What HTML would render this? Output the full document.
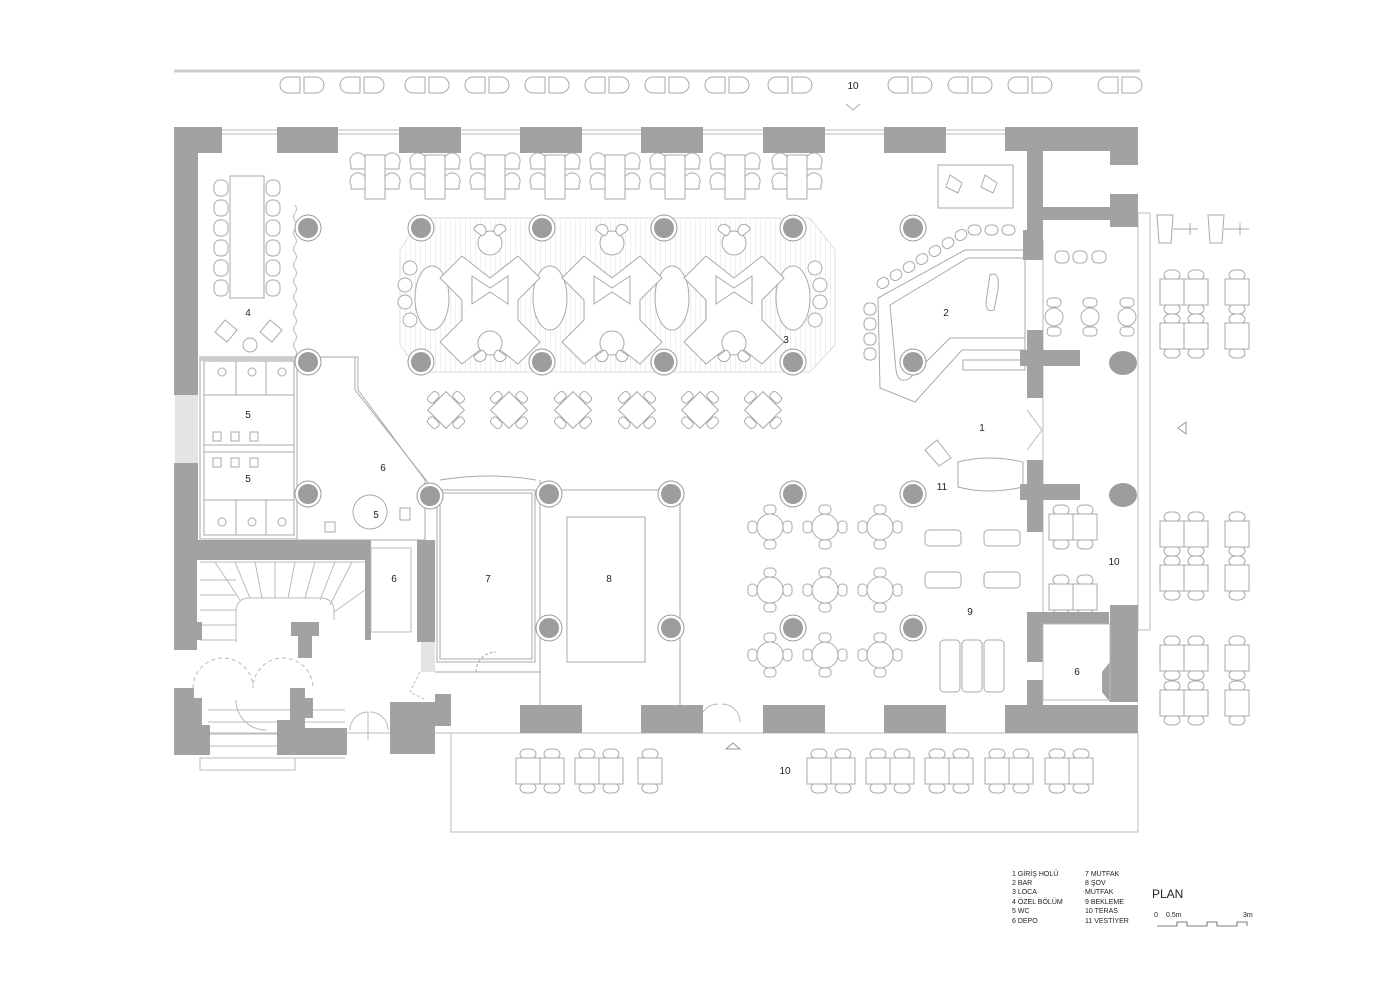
<!DOCTYPE html>
<html><head><meta charset="utf-8"><style>
html,body{margin:0;padding:0;background:#fff}
svg{display:block}
text{font-family:"Liberation Sans",sans-serif;fill:#222}
</style></head><body>
<svg width="1400" height="989" viewBox="0 0 1400 989" xmlns="http://www.w3.org/2000/svg">
<defs>
<g id="col"><circle r="13" fill="#fff" stroke="#999" stroke-width="1"/><circle r="10" fill="#9d9d9d"/></g>
<g id="t4" fill="#fff" stroke="#aaa" stroke-width="1">
 <path d="M-10,-20 a8,8 0 0 0 -14,8 v4 h14z M-10,0 a8,8 0 0 0 -14,8 v4 h14z"/>
 <path d="M10,-20 a8,8 0 0 1 14,8 v4 h-14z M10,0 a8,8 0 0 1 14,8 v4 h-14z"/>
 <rect x="-10" y="-22" width="20" height="44"/>
</g>
<g id="dt" fill="#fff" stroke="#aaa" stroke-width="1">
 <g transform="rotate(45)">
 <rect x="-6" y="-22" width="12" height="8" rx="3"/><rect x="-6" y="14" width="12" height="8" rx="3"/>
 <rect x="-22" y="-6" width="8" height="12" rx="3"/><rect x="14" y="-6" width="8" height="12" rx="3"/>
 <rect x="-13" y="-13" width="26" height="26"/></g>
</g>
<g id="rt" fill="#fff" stroke="#aaa" stroke-width="1">
 <rect x="-6" y="-22" width="12" height="9" rx="4"/><rect x="-6" y="13" width="12" height="9" rx="4"/>
 <rect x="-22" y="-6" width="9" height="12" rx="4"/><rect x="13" y="-6" width="9" height="12" rx="4"/>
 <circle r="13"/>
</g>
<g id="tt" fill="#fff" stroke="#aaa" stroke-width="1">
 <rect x="-8" y="-22" width="16" height="10" rx="6"/><rect x="-8" y="12" width="16" height="10" rx="6"/>
 <rect x="-12" y="-13" width="24" height="26"/>
</g>
<g id="tt2"><use href="#tt"/><use href="#tt" x="24"/></g>
<g id="chp" fill="#fff" stroke="#aaa" stroke-width="1">
 <path d="M-14,-8 h12 v16 h-12 a8,8 0 0 1 0,-16z"/><path d="M2,-8 h12 a8,8 0 0 1 0,16 h-12z"/>
</g>
<g id="loca" fill="#fff" stroke="#aaa" stroke-width="1">
 <path d="M-28,-32 l28,22 l28,-22 l22,22 l-22,22 v20 l22,22 l-22,22 l-28,-22 l-28,22 l-22,-22 l22,-22 v-20 l-22,-22z"/>
 <path d="M-18,-12 l18,12 l18,-12 v28 l-18,-12 l-18,12z"/>
 <circle cx="0" cy="-45" r="12"/><circle cx="0" cy="55" r="12"/>
 <path d="M-16,-58 a6,6 0 1 1 8,6z M16,-58 a6,6 0 1 0 -8,6z M-16,68 a6,6 0 1 0 8,-6z M16,68 a6,6 0 1 1 -8,-6z"/>
</g>
<pattern id="hatch" width="5" height="10" patternUnits="userSpaceOnUse"><line x1="0" y1="0" x2="0" y2="10" stroke="#e2e2e2" stroke-width="1"/></pattern>
</defs>

<!-- top terrace -->
<line x1="174" y1="71" x2="1140" y2="71" stroke="#ccc" stroke-width="3"/>
<g>
<use href="#chp" x="302" y="85"/><use href="#chp" x="362" y="85"/><use href="#chp" x="427" y="85"/><use href="#chp" x="487" y="85"/><use href="#chp" x="547" y="85"/><use href="#chp" x="607" y="85"/><use href="#chp" x="667" y="85"/><use href="#chp" x="727" y="85"/><use href="#chp" x="790" y="85"/><use href="#chp" x="910" y="85"/><use href="#chp" x="970" y="85"/><use href="#chp" x="1030" y="85"/><use href="#chp" x="1120" y="85"/>
</g>
<text x="853" y="89" font-size="10" text-anchor="middle">10</text>
<path d="M846,104 l7,6 l7,-6" fill="none" stroke="#aaa"/>

<!-- windows top -->
<g stroke="#bbb" stroke-width="1">
<line x1="222" y1="130" x2="1005" y2="130"/><line x1="222" y1="134" x2="1005" y2="134"/>
<line x1="180" y1="733" x2="1005" y2="733"/>
</g>

<!-- loca hatch band -->
<path d="M420,218 H810 L835,250 V345 L810,372 H420 L400,345 V250Z" fill="url(#hatch)" stroke="#ddd"/>
<g fill="#fff" stroke="#aaa">
<ellipse cx="432" cy="298" rx="17" ry="32"/><ellipse cx="550" cy="298" rx="17" ry="32"/><ellipse cx="672" cy="298" rx="17" ry="32"/><ellipse cx="793" cy="298" rx="17" ry="32"/>
</g>
<use href="#loca" x="490" y="288"/><use href="#loca" x="612" y="288"/><use href="#loca" x="734" y="288"/>
<g fill="#fff" stroke="#aaa"><circle cx="410" cy="268" r="7"/><circle cx="405" cy="285" r="7"/><circle cx="405" cy="302" r="7"/><circle cx="410" cy="320" r="7"/><circle cx="815" cy="268" r="7"/><circle cx="820" cy="285" r="7"/><circle cx="820" cy="302" r="7"/><circle cx="815" cy="320" r="7"/></g>

<!-- top row tables -->
<use href="#t4" x="375" y="177"/><use href="#t4" x="435" y="177"/><use href="#t4" x="495" y="177"/><use href="#t4" x="555" y="177"/><use href="#t4" x="615" y="177"/><use href="#t4" x="675" y="177"/><use href="#t4" x="735" y="177"/><use href="#t4" x="797" y="177"/>

<!-- ozel bolum long table -->
<g fill="#fff" stroke="#aaa">
<g id="lc"><rect x="214" y="180" width="14" height="16" rx="6"/><rect x="214" y="200" width="14" height="16" rx="6"/><rect x="214" y="220" width="14" height="16" rx="6"/><rect x="214" y="240" width="14" height="16" rx="6"/><rect x="214" y="260" width="14" height="16" rx="6"/><rect x="214" y="280" width="14" height="16" rx="6"/></g>
<use href="#lc" x="52"/>
<rect x="230" y="176" width="34" height="122"/>
<path d="M225,320 l12,10 l-10,12 l-12,-10z M270,320 l12,10 l-10,12 l-12,-10z"/><circle cx="250" cy="345" r="7"/>
</g>
<path d="M295,205 q3,4 0,8 q-3,4 0,8 q3,4 0,8 q-3,4 0,8 q3,4 0,8 q-3,4 0,8 q3,4 0,8 q-3,4 0,8 q3,4 0,8 q-3,4 0,8 q3,4 0,8 q-3,4 0,8 q3,4 0,8 q-3,4 0,8 q3,4 0,8 q-3,4 0,8 q3,4 0,8 q-3,4 0,8 q3,4 0,8" fill="none" stroke="#bbb"/>

<!-- diamond tables -->
<use href="#dt" x="446" y="410"/><use href="#dt" x="509" y="410"/><use href="#dt" x="573" y="410"/><use href="#dt" x="637" y="410"/><use href="#dt" x="700" y="410"/><use href="#dt" x="763" y="410"/>

<!-- round tables -->
<use href="#rt" x="770" y="527"/><use href="#rt" x="825" y="527"/><use href="#rt" x="880" y="527"/>
<use href="#rt" x="770" y="590"/><use href="#rt" x="825" y="590"/><use href="#rt" x="880" y="590"/>
<use href="#rt" x="770" y="655"/><use href="#rt" x="825" y="655"/><use href="#rt" x="880" y="655"/>

<!-- bar -->
<g fill="#fff" stroke="#aaa">
<path d="M878,298 L965,250 H1025 V350 H962 L915,402 L880,388 Z"/>
<path d="M890,305 L968,258 H1025 V338 H950 L910,378 Q898,385 896,370Z"/>
<path d="M990,275 q10,-5 8,15 l-4,20 q-8,3 -8,-8z"/>
<rect x="938" y="165" width="75" height="43"/>
<path d="M950,175 l12,8 l-4,10 l-12,-6z M985,175 l12,8 l-4,10 l-12,-6z"/>
<rect x="963" y="360" width="62" height="10"/>
</g>
<g fill="#fff" stroke="#aaa">
<rect x="877" y="278" width="12" height="10" rx="5" transform="rotate(-30 883 283)"/><rect x="890" y="270" width="12" height="10" rx="5" transform="rotate(-30 896 275)"/><rect x="903" y="262" width="12" height="10" rx="5" transform="rotate(-30 909 267)"/><rect x="916" y="254" width="12" height="10" rx="5" transform="rotate(-30 922 259)"/><rect x="929" y="246" width="12" height="10" rx="5" transform="rotate(-30 935 251)"/><rect x="942" y="238" width="12" height="10" rx="5" transform="rotate(-30 948 243)"/><rect x="955" y="230" width="12" height="10" rx="5" transform="rotate(-30 961 235)"/>
<rect x="968" y="225" width="13" height="10" rx="5"/><rect x="985" y="225" width="13" height="10" rx="5"/><rect x="1002" y="225" width="13" height="10" rx="5"/>
<rect x="864" y="303" width="12" height="12" rx="5"/><rect x="864" y="318" width="12" height="12" rx="5"/><rect x="864" y="333" width="12" height="12" rx="5"/><rect x="864" y="348" width="12" height="12" rx="5"/>
</g>

<!-- vestiyer / waiting -->
<g fill="#fff" stroke="#aaa">
<path d="M958,462 q30,-8 65,0 v25 q-35,8 -65,0z"/>
<path d="M925,450 l12,-10 l14,18 l-12,8z"/>
<rect x="925" y="530" width="36" height="16" rx="4"/><rect x="984" y="530" width="36" height="16" rx="4"/>
<rect x="925" y="572" width="36" height="16" rx="4"/><rect x="984" y="572" width="36" height="16" rx="4"/>
<rect x="940" y="640" width="20" height="52" rx="4"/><rect x="962" y="640" width="20" height="52" rx="4"/><rect x="984" y="640" width="20" height="52" rx="4"/>
</g>

<!-- rooms 7 & 8 -->
<g fill="none" stroke="#aaa">
<rect x="437" y="490" width="98" height="172"/>
<rect x="440" y="493" width="92" height="166"/>
<path d="M440,480 q50,-8 96,0"/>
<rect x="567" y="517" width="78" height="145"/>
<line x1="549" y1="490" x2="671" y2="490"/>
<line x1="680" y1="490" x2="680" y2="705"/>
<line x1="540" y1="480" x2="540" y2="705"/>
<line x1="435" y1="672" x2="540" y2="672"/>
<path d="M476,672 a20,20 0 0 1 20,-20" stroke-dasharray="3,2"/>
</g>

<!-- WC -->
<g fill="none" stroke="#aaa">
<rect x="200" y="357" width="97" height="182"/>
<rect x="204" y="361" width="90" height="174"/>
<line x1="204" y1="445" x2="294" y2="445"/><line x1="204" y1="452" x2="294" y2="452"/>
<line x1="236" y1="361" x2="236" y2="395"/><line x1="266" y1="361" x2="266" y2="395"/><line x1="204" y1="395" x2="294" y2="395"/>
<line x1="236" y1="500" x2="236" y2="535"/><line x1="266" y1="500" x2="266" y2="535"/><line x1="204" y1="500" x2="294" y2="500"/>
<path d="M297,357 H358 V390 L425,480 V540 H297"/>
<path d="M355,357 V390 L430,485" />
<path d="M300,540 H422"/>
<circle cx="370" cy="512" r="17"/>
<rect x="325" y="522" width="10" height="10"/><rect x="400" y="508" width="10" height="12"/>
<rect x="213" y="432" width="8" height="9"/><rect x="231" y="432" width="8" height="9"/><rect x="250" y="432" width="8" height="9"/>
<rect x="213" y="458" width="8" height="9"/><rect x="231" y="458" width="8" height="9"/><rect x="250" y="458" width="8" height="9"/>
<circle cx="222" cy="372" r="4"/><circle cx="252" cy="372" r="4"/><circle cx="282" cy="372" r="4"/>
<circle cx="222" cy="522" r="4"/><circle cx="252" cy="522" r="4"/><circle cx="282" cy="522" r="4"/>
</g>
<rect x="200" y="357" width="97" height="4" fill="#ccc"/>

<!-- stairs -->
<g fill="none" stroke="#bbb">
<path d="M236,642 V612 q0,-14 14,-14 H320 q14,0 14,14 V620"/>
<path d="M200,562 H365"/>
<path d="M200,580 H236 M200,595 H236 M200,610 H236 M200,625 H236 M200,640 H236"/>
<path d="M215,562 L240,600 M235,562 L250,598 M255,562 L262,598 M275,562 L275,598 M295,562 L288,598 M315,562 L305,598 M335,562 L320,600 M352,562 L330,605 M365,590 L334,612"/>
<path d="M208,710 H345 M208,722 H345 M208,734 H345 M208,746 H345 M208,758 H345"/>
<rect x="200" y="758" width="95" height="12"/>
<path d="M193,688 a30,30 0 0 1 60,0 a30,30 0 0 1 60,0" stroke-dasharray="4,3"/>
<path d="M236,700 a30,30 0 0 0 30,30" />
</g>
<g fill="none" stroke="#bbb">
<path d="M350,730 a18,18 0 0 1 18,-18 V740 M388,730 a18,18 0 0 0 -18,-18"/>
<path d="M420,672 l-10,20 l16,8" stroke-dasharray="3,2"/>
<path d="M700,722 a18,18 0 0 1 18,-18 M740,722 a18,18 0 0 0 -18,-18"/>
<path d="M1027,410 l15,20 l-15,20"/>
</g>

<!-- right terrace inner -->
<g fill="none" stroke="#bbb">
<rect x="1138" y="213" width="12" height="417"/>
<line x1="1043" y1="240" x2="1043" y2="700"/>
</g>
<g fill="#fff" stroke="#aaa">
<rect x="1055" y="251" width="14" height="12" rx="5"/><rect x="1073" y="251" width="14" height="12" rx="5"/><rect x="1092" y="251" width="14" height="12" rx="5"/>
<g id="cs"><rect x="1047" y="298" width="14" height="9" rx="4"/><circle cx="1054" cy="317" r="9"/><rect x="1047" y="327" width="14" height="9" rx="4"/></g>
<use href="#cs" x="36"/><use href="#cs" x="73"/>
</g>
<use href="#tt2" x="1061" y="527"/><use href="#tt2" x="1061" y="597"/>
<ellipse cx="1123" cy="363" rx="14" ry="12" fill="#9d9d9d"/>
<ellipse cx="1123" cy="495" rx="14" ry="12" fill="#9d9d9d"/>

<!-- right outer terrace -->
<g fill="#fff" stroke="#aaa">
<path d="M1157,215 h16 l-2,28 h-12z"/><path d="M1208,215 h16 l-2,28 h-12z"/>
<path d="M1173,229 h25 M1190,223 v12 M1224,229 h25 M1240,223 v12" />
</g>
<use href="#tt2" x="1172" y="292"/><use href="#tt" x="1237" y="292"/>
<use href="#tt2" x="1172" y="336"/><use href="#tt" x="1237" y="336"/>
<use href="#tt2" x="1172" y="534"/><use href="#tt" x="1237" y="534"/>
<use href="#tt2" x="1172" y="578"/><use href="#tt" x="1237" y="578"/>
<use href="#tt2" x="1172" y="658"/><use href="#tt" x="1237" y="658"/>
<use href="#tt2" x="1172" y="703"/><use href="#tt" x="1237" y="703"/>
<path d="M1186,422 l-8,6 l8,6z" fill="none" stroke="#999"/>

<!-- bottom terrace -->
<rect x="451" y="733" width="687" height="99" fill="none" stroke="#bbb"/>
<use href="#tt2" x="528" y="771"/><use href="#tt2" x="587" y="771"/><use href="#tt" x="650" y="771"/>
<use href="#tt2" x="819" y="771"/><use href="#tt2" x="878" y="771"/><use href="#tt2" x="937" y="771"/><use href="#tt2" x="997" y="771"/><use href="#tt2" x="1057" y="771"/>
<path d="M726,749 l7,-6 l7,6z" fill="none" stroke="#999"/>

<!-- walls -->
<g fill="#a2a2a2">
<rect x="174" y="127" width="48" height="26"/>
<rect x="174" y="127" width="24" height="268"/>
<rect x="174" y="463" width="24" height="97"/>
<rect x="277" y="127" width="61" height="26"/>
<rect x="399" y="127" width="62" height="26"/>
<rect x="520" y="127" width="62" height="26"/>
<rect x="641" y="127" width="62" height="26"/>
<rect x="763" y="127" width="62" height="26"/>
<rect x="884" y="127" width="62" height="26"/>
<rect x="1005" y="127" width="133" height="24"/>
<rect x="1027" y="151" width="16" height="89"/>
<rect x="1110" y="151" width="28" height="14"/>
<rect x="1110" y="194" width="28" height="33"/>
<rect x="1027" y="207" width="83" height="13"/>
<rect x="1023" y="230" width="20" height="30"/>
<rect x="1027" y="330" width="16" height="68"/><rect x="1020" y="350" width="60" height="16"/>
<rect x="1027" y="460" width="16" height="72"/><rect x="1020" y="484" width="60" height="16"/>
<rect x="1027" y="612" width="16" height="50"/><rect x="1027" y="612" width="82" height="12"/>
<rect x="1110" y="605" width="28" height="57"/><path d="M1110,662 h28 v40 h-28 l-8,-10 v-20z" />
<rect x="1027" y="680" width="16" height="25"/>
<rect x="1005" y="705" width="133" height="28"/>
<rect x="884" y="705" width="62" height="28"/>
<rect x="763" y="705" width="62" height="28"/>
<rect x="641" y="705" width="62" height="28"/>
<rect x="520" y="705" width="62" height="28"/>
<rect x="174" y="540" width="191" height="20"/>
<rect x="174" y="560" width="23" height="90"/>
<rect x="174" y="622" width="28" height="18"/>
<rect x="291" y="622" width="28" height="14"/><rect x="298" y="636" width="14" height="22"/>
<rect x="365" y="540" width="6" height="100"/>
<rect x="417" y="540" width="18" height="102"/>
<path d="M174,688 h20 v10 h8 v27 h8 v30 h-36z"/>
<path d="M290,688 h15 v10 h8 v20 h-8 v10 h-20 v27 h-8 v-35 h13z"/>
<path d="M285,728 h62 v27 h-62z"/>
<path d="M390,702 h45 v-8 h16 v32 h-16 v28 h-45z"/>
</g>
<rect x="175" y="395" width="23" height="68" fill="#e4e4e4"/>
<rect x="421" y="642" width="14" height="30" fill="#e4e4e4"/>
<g fill="none" stroke="#bbb">
<rect x="371" y="548" width="40" height="84"/>
<rect x="1043" y="624" width="67" height="76"/>
</g>

<!-- columns -->
<use href="#col" x="308" y="228"/><use href="#col" x="421" y="228"/><use href="#col" x="542" y="228"/><use href="#col" x="664" y="228"/><use href="#col" x="793" y="228"/><use href="#col" x="913" y="228"/>
<use href="#col" x="308" y="362"/><use href="#col" x="421" y="362"/><use href="#col" x="542" y="362"/><use href="#col" x="664" y="362"/><use href="#col" x="793" y="362"/><use href="#col" x="913" y="362"/>
<use href="#col" x="308" y="494"/><use href="#col" x="430" y="496"/><use href="#col" x="549" y="494"/><use href="#col" x="671" y="494"/><use href="#col" x="793" y="494"/><use href="#col" x="913" y="494"/>
<use href="#col" x="549" y="628"/><use href="#col" x="671" y="628"/><use href="#col" x="793" y="628"/><use href="#col" x="913" y="628"/>

<!-- labels -->
<g font-size="10" text-anchor="middle">
<text x="248" y="316">4</text><text x="946" y="316">2</text><text x="786" y="343">3</text>
<text x="248" y="418">5</text><text x="248" y="482">5</text><text x="376" y="518">5</text>
<text x="383" y="471">6</text><text x="394" y="582">6</text><text x="1077" y="675">6</text>
<text x="982" y="431">1</text><text x="942" y="490">11</text>
<text x="488" y="582">7</text><text x="609" y="582">8</text><text x="970" y="615">9</text>
<text x="1114" y="565">10</text><text x="785" y="774">10</text>
</g>
<g font-size="7">
<text x="1012" y="876">1 GİRİŞ HOLÜ</text><text x="1012" y="885">2 BAR</text><text x="1012" y="894">3 LOCA</text><text x="1012" y="904">4 ÖZEL  BÖLÜM</text><text x="1012" y="913">5 WC</text><text x="1012" y="923">6 DEPO</text>
<text x="1085" y="876">7 MUTFAK</text><text x="1085" y="885">8 ŞOV</text><text x="1085" y="894">MUTFAK</text><text x="1085" y="904">9 BEKLEME</text><text x="1085" y="913">10 TERAS</text><text x="1085" y="923">11 VESTİYER</text>
<text x="1154" y="917">0</text><text x="1166" y="917">0.5m</text><text x="1243" y="917">3m</text>
</g>
<text x="1152" y="898" font-size="12">PLAN</text>
<path d="M1157,926 h20 v-4 h10 v4 h20 v-4 h10 v4 h20 v-4 h10 v4" fill="none" stroke="#555" stroke-width="0.8"/>
</svg>
</body></html>
